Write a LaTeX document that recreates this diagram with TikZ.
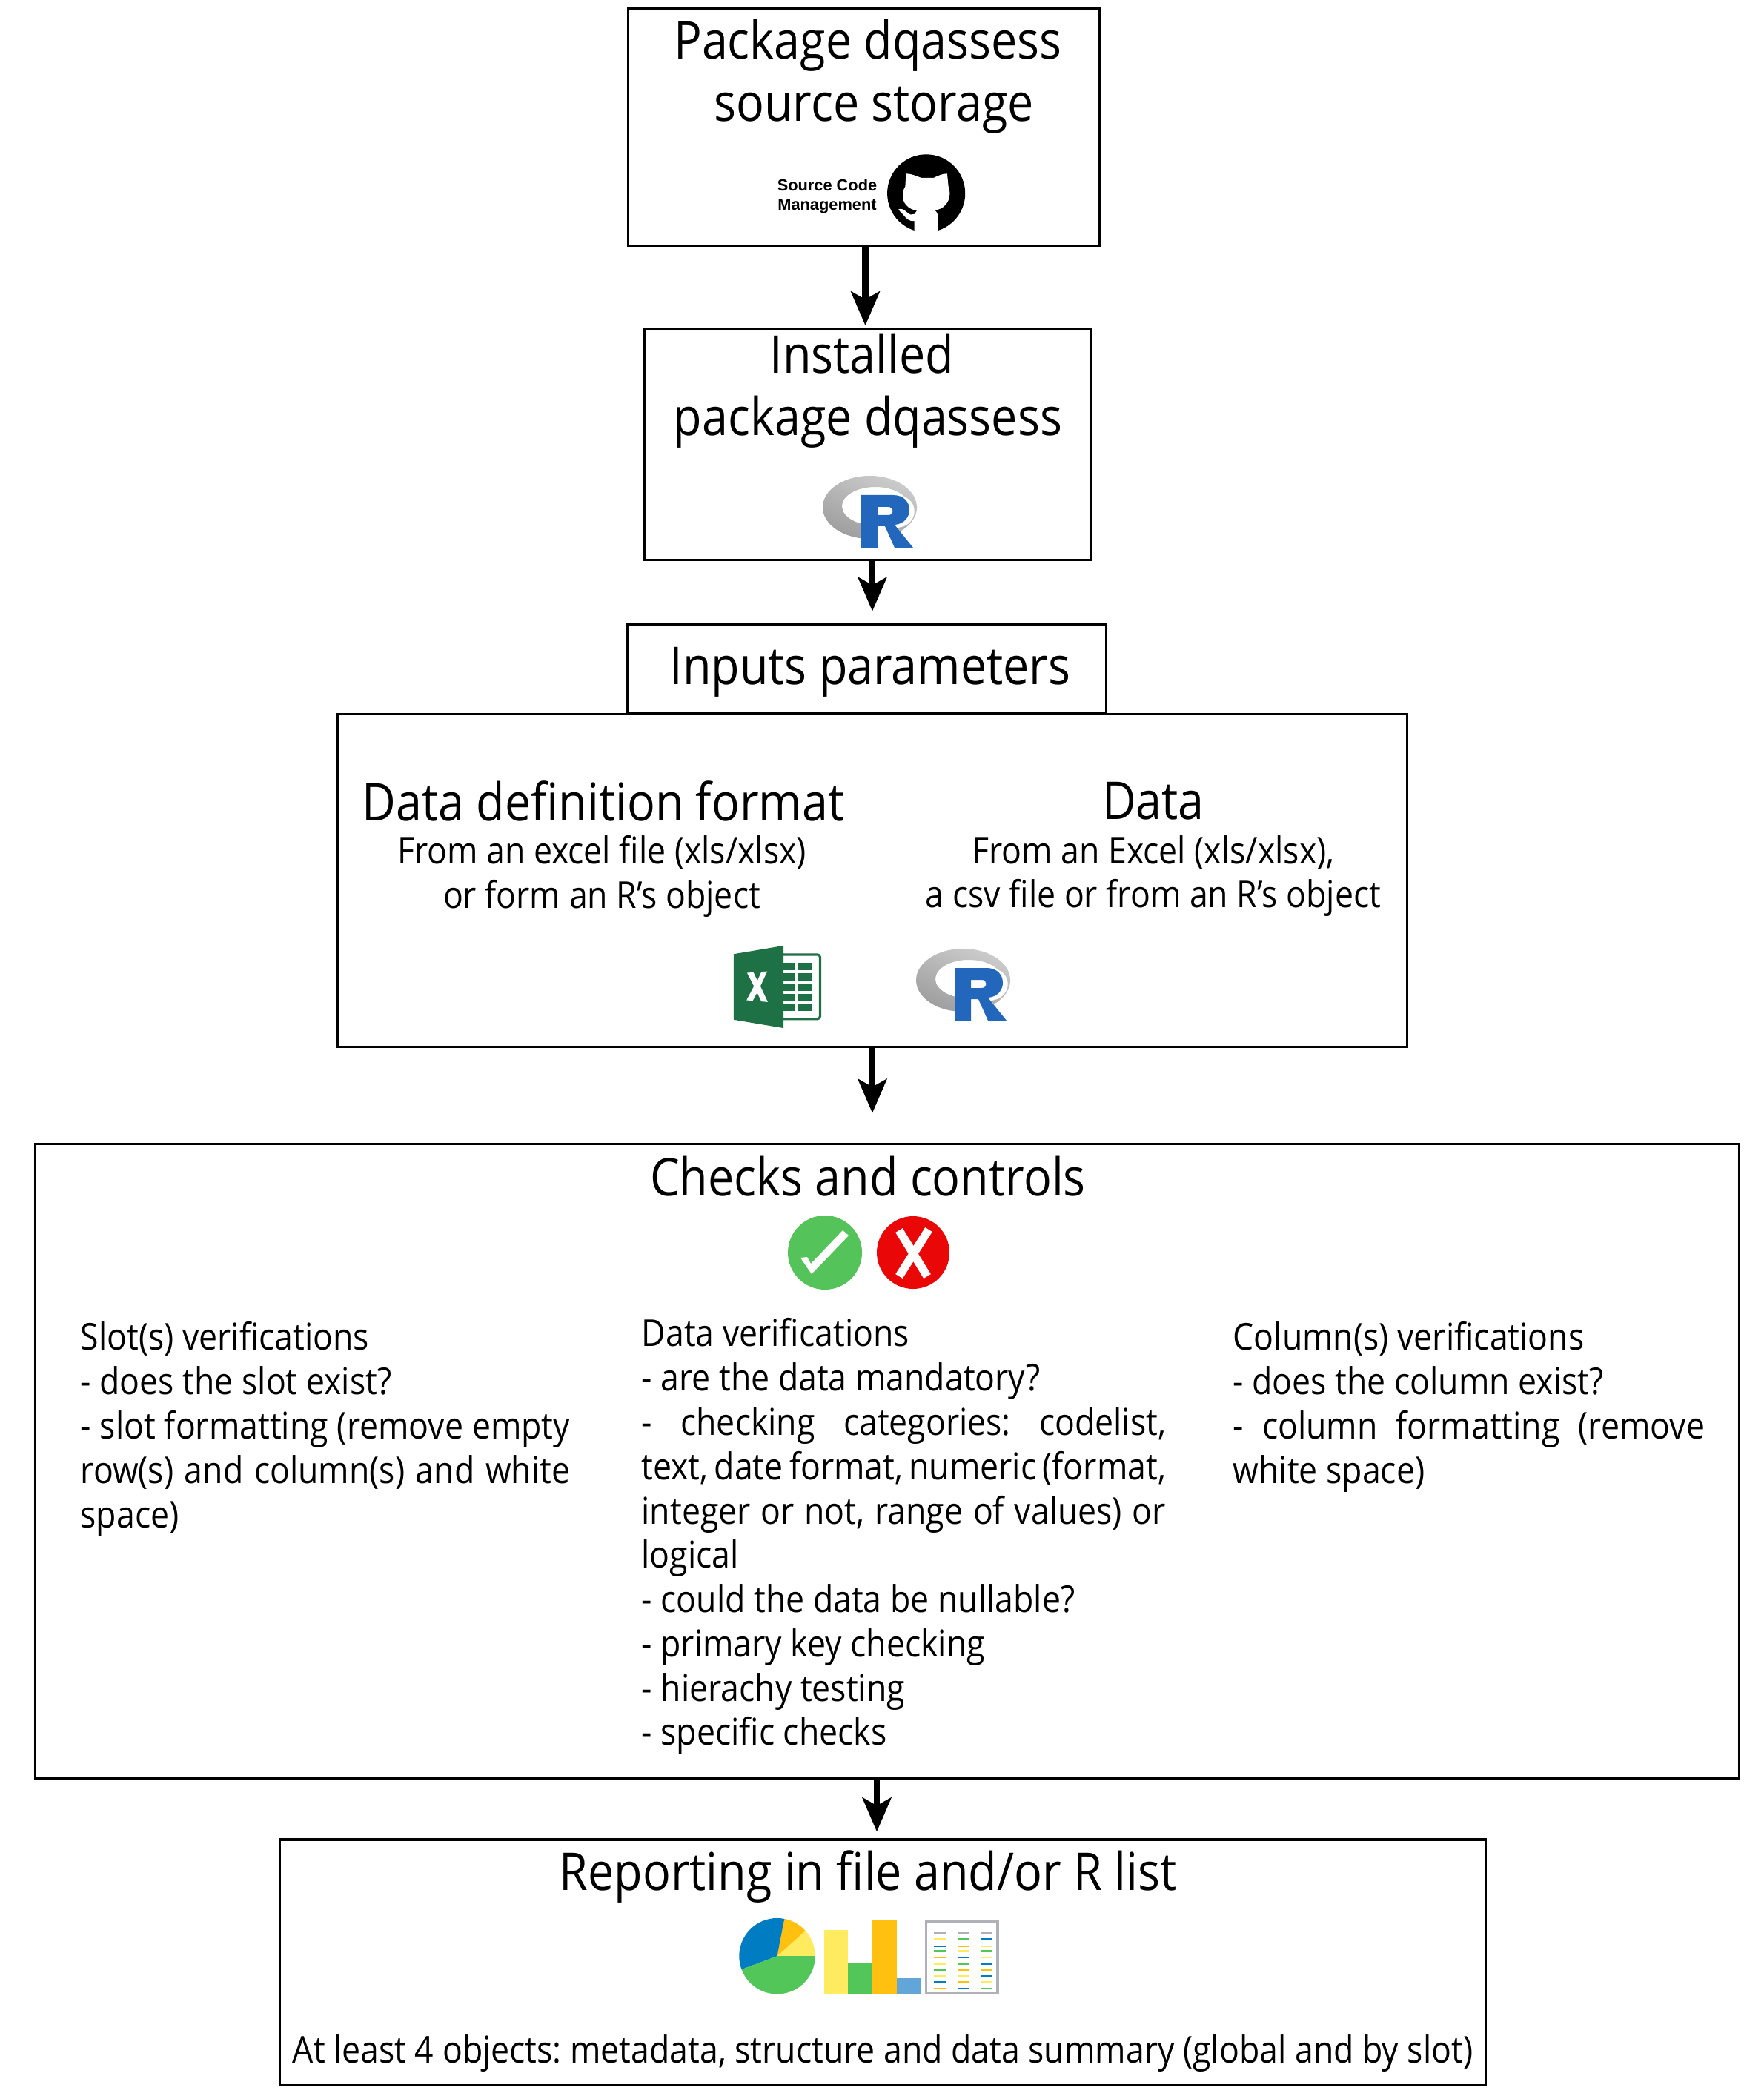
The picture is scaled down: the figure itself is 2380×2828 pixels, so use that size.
\documentclass[tikz,border=0pt]{standalone}
\usepackage{xcolor}
\usepackage{fontspec}
\setmainfont[FakeStretch=0.893]{Open Sans}
\newfontfamily\labelfont{Liberation Sans}
\usetikzlibrary{arrows.meta,positioning}
\definecolor{pieyellow}{RGB}{255,235,95}
\definecolor{pieorange}{RGB}{255,192,16}
\definecolor{pieblue}{RGB}{0,124,195}
\definecolor{piegreen}{RGB}{83,198,90}
\definecolor{barblue}{RGB}{98,165,216}
\definecolor{tablegray}{RGB}{176,176,184}
\definecolor{excelgreen}{RGB}{30,113,69}
\definecolor{rblue}{RGB}{34,103,187}
\definecolor{checkgreen}{RGB}{84,196,90}
\definecolor{crossred}{RGB}{233,7,7}
\newcommand{\fitline}[2]{\makebox[#1][s]{#2}}

\begin{document}
\begin{tikzpicture}[
    x=0.01cm, y=-0.01cm,
    flowbox/.style={rectangle, draw=black, line width=0.9pt, fill=white, inner sep=0pt},
    bigtext/.style={font=\fontsize{20}{24}\selectfont, align=center, inner sep=0pt},
    midtext/.style={font=\fontsize{14.2}{17}\selectfont\frenchspacing, align=center, inner sep=0pt},
    coltext/.style={font=\fontsize{14.2}{17}\selectfont\frenchspacing, align=left, anchor=north west, inner sep=0pt},
    flowarrow/.style={-{Stealth[length=13pt,width=11pt,inset=3pt]}, line width=2.4pt, black},
    rlogo/.pic={
      \shade[even odd rule, top color=black!20, bottom color=black!38, shading angle=-25]
        (63.5,42.5) ellipse [x radius=63.5, y radius=42.5]
        (71,41) ellipse [x radius=45, y radius=26];
      \fill[white] (52,26) -- (98,26) .. controls (132,26) and (132,68) .. (100,70) -- (126,100) -- (52,100) -- cycle;
      \fill[rblue, even odd rule] (52,26) -- (95,26) .. controls (124,26) and (124,64) .. (97,66)
        -- (122,97) -- (97,97) -- (84,68) -- (74,68) -- (74,97) -- (52,97) -- cycle
        (74,42) -- (88,42) .. controls (97,42) and (97,53) .. (88,53) -- (74,53) -- cycle;
    }
  ]
    \useasboundingbox (0,0) rectangle (2380,2828);
    % boxes
    \node[flowbox, minimum width=6.36cm, minimum height=3.2cm] (source) at (1165.5,171.5) {};
    \node[flowbox, minimum width=6.03cm, minimum height=3.11cm] (installed) at (1171,599.5) {};
    \node[flowbox, minimum width=6.46cm, minimum height=1.2cm] (inputs) at (1169.5,903) {};
    \node[flowbox, minimum width=14.42cm, minimum height=4.48cm] (params) at (1177,1188) {};
    \node[flowbox, minimum width=22.98cm, minimum height=8.56cm] (checks) at (1197,1971.5) {};
    \node[flowbox, minimum width=16.26cm, minimum height=3.31cm] (report) at (1191,2647.5) {};

    % titles
    \node[bigtext] (sourcetitle) at (1179,103) {Package dqassess\hspace*{0.16cm}\\source storage};
    \node[bigtext] (installedtitle) at (1171,527) {Installed\hspace*{0.16cm}\\package dqassess};
    \node[bigtext] (inputstitle) at (1174,907) {Inputs parameters};
    \node[bigtext] (formattitle) at (814,1081) {Data definition format};
    \node[bigtext] (datatitle) at (1556,1081) {Data};
    \node[midtext] (formattext) at (812,1182) {From an excel file (xls/xlsx)\\or form an R's object};
    \node[midtext] (datatext) at (1556,1182) {From an Excel (xls/xlsx),\\a csv file or from an R's object};
    \node[bigtext] (checkstitle) at (1171,1587) {Checks and controls};
    \node[bigtext] (reporttitle) at (1171,2532) {Reporting in file and/or R list};
    \node[midtext] (reporttext) at (1191,2770) {At least 4 objects: metadata, structure and data summary (global and by slot)};
    \node[font=\labelfont\bfseries\fontsize{6.2}{7.4}\selectfont, align=center, inner sep=0pt] (sourcelabel) at (1116,265) {Source Code\\Management};

    % columns
    \node[coltext] (slotcol) at (108,1783) {Slot(s) verifications\\
      - does the slot exist?\\
      \fitline{6.6cm}{- slot formatting (remove empty}\\
      \fitline{6.6cm}{row(s) and column(s) and white}\\
      space)};
    \node[coltext] (datacol) at (865,1778) {Data verifications\\
      - are the data mandatory?\\
      \fitline{7.07cm}{- checking categories: codelist,}\\
      \fitline{7.07cm}{text, date format, numeric (format,}\\
      \fitline{7.07cm}{integer or not, range of values) or}\\
      logical\\
      - could the data be nullable?\\
      - primary key checking\\
      - hierachy testing\\
      - specific checks};
    \node[coltext] (columncol) at (1663,1783) {Column(s) verifications\\
      - does the column exist?\\
      \fitline{6.36cm}{- column formatting (remove}\\
      white space)};

    % arrows
    \draw[flowarrow] ([xshift=0.02cm]source.south) -- ++(0,106);
    \draw[flowarrow] ([xshift=0.06cm]installed.south) -- ++(0,68);
    \draw[flowarrow] (params.south) -- ++(0,88);
    \draw[flowarrow] ([xshift=-0.14cm]checks.south) -- ++(0,70);

    % logos
    \pic at (1110,642) {rlogo};
    \pic at (1236,1280) {rlogo};

    % github
    \begin{scope}[shift={(1030,195)}, x=0.00333cm, y=-0.00333cm]
      \fill[black] (660,198) circle [radius=158];
      \fill[white] (612,360) -- (612,310) .. controls (590,312) and (580,300) .. (570,288)
        .. controls (562,278) and (552,272) .. (548,262) .. controls (570,256) and (580,278) .. (596,284)
        -- (612,282) -- (622,268) .. controls (585,262) and (563,235) .. (565,205)
        .. controls (565,190) and (570,178) .. (575,170) -- (578,118)
        .. controls (600,118) and (620,128) .. (640,135) -- (690,135)
        .. controls (705,128) and (725,118) .. (745,118) -- (750,170)
        .. controls (765,205) and (750,260) .. (695,266) .. controls (705,275) and (708,285) .. (708,300)
        -- (708,360) -- cycle;
    \end{scope}

    % excel
    \begin{scope}[shift={(950,1240)}, x=0.00333cm, y=-0.00333cm]
      \draw[excelgreen, line width=0.9pt, rounded corners=1pt] (322,144) -- (470,144) -- (470,405) -- (322,405);
      \foreach \y in {176,218,260,302,344} {
        \fill[excelgreen] (322,\y) rectangle (370,\y+30);
        \fill[excelgreen] (382,\y) rectangle (438,\y+30);
      }
      \fill[excelgreen] (120,142) -- (322,108) -- (322,442) -- (120,408) -- cycle;
      \fill[white] (174,218) -- (200,216) -- (216,250) -- (232,214) -- (256,212) -- (228,272) -- (258,336)
        -- (232,334) -- (215,298) -- (197,331) -- (172,329) -- (202,272) -- cycle;
    \end{scope}

    % check and cross
    \fill[checkgreen] (1113,1690) circle [radius=50];
    \fill[white] (1080,1697) -- (1089,1696) -- (1094,1705) -- (1137,1660) -- (1145,1667) -- (1095,1719) -- cycle;
    \fill[crossred] (1232,1690) circle [radius=49];
    \draw[white, line width=3.2pt] (1213,1660) -- (1251,1722);
    \draw[white, line width=3.2pt] (1253,1659) -- (1213,1722);

    % pie, bars and table
    \begin{scope}[shift={(960,2550)}, x=0.00333cm, y=-0.00333cm]
      \begin{scope}[shift={(266,268)}, y=0.00333cm]
        \fill[pieyellow] (0,0) -- (0:154) arc [start angle=0, end angle=42, radius=154] -- cycle;
        \fill[pieorange] (0,0) -- (42:154) arc [start angle=42, end angle=79, radius=154] -- cycle;
        \fill[pieblue] (0,0) -- (79:154) arc [start angle=79, end angle=200.5, radius=154] -- cycle;
        \fill[piegreen] (0,0) -- (200.5:154) arc [start angle=200.5, end angle=360, radius=154] -- cycle;
      \end{scope}
      \fill[pieyellow] (456,163) rectangle (554,421);
      \fill[piegreen] (554,293) rectangle (650,421);
      \fill[pieorange] (650,121) rectangle (750,421);
      \fill[barblue] (750,358) rectangle (848,421);
      \draw[tablegray, line width=0.9pt] (870,128) rectangle (1160,420);
      \foreach \y/\a/\b/\c in {175/tablegray/tablegray/tablegray, 199/pieyellow/piegreen/pieblue,
          228/pieblue/pieorange/pieyellow, 248/piegreen/pieyellow/piegreen, 274/pieorange/pieblue/pieyellow,
          300/pieyellow/piegreen/pieblue, 324/piegreen/pieorange/pieorange, 350/pieyellow/pieyellow/pieblue,
          373/pieblue/pieorange/pieyellow, 399/pieorange/pieblue/piegreen} {
        \draw[\a, line width=0.7pt] (902,\y) -- (950,\y);
        \draw[\b, line width=0.7pt] (998,\y) -- (1046,\y);
        \draw[\c, line width=0.7pt] (1090,\y) -- (1138,\y);
      }
    \end{scope}
  \end{tikzpicture}
\end{document}
